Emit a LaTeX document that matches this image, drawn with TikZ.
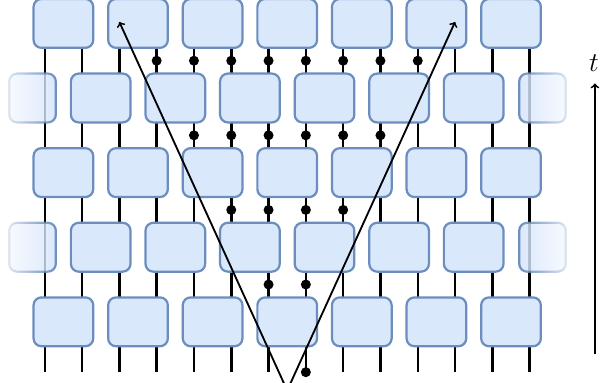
\documentclass[tikz,border=0pt]{standalone}
\usetikzlibrary{fadings}
\definecolor{gatefill}{HTML}{DAE8FC}
\definecolor{gateedge}{HTML}{6C8EBF}
\tikzfading[name=fadeleft, left color=transparent!80, middle color=transparent!0, right color=transparent!0]
\tikzfading[name=faderight, left color=transparent!0, middle color=transparent!0, right color=transparent!80]
\tikzset{
  gate/.style={draw=gateedge, fill=gatefill, line width=1.7pt, rounded corners=6pt,
    minimum width=1.6cm, minimum height=1.31cm, inner sep=0pt},
  halfgate/.style={gate, minimum width=1.25cm},
  wire/.style={line width=1.9pt},
  cone/.style={line width=1.4pt, ->}
}
\begin{document}
\begin{tikzpicture}
\useasboundingbox (0,0) rectangle (16.086,10.268);
\clip (0,0) rectangle (16.086,10.268);

% wires
\foreach \i in {0,...,13}{
  \coordinate (w\i-bot) at ({1.2+\i},0.29);
  \coordinate (w\i-top) at ({1.2+\i},9.64);
  \draw[wire] (w\i-bot) -- (w\i-top);
}

% gates, brickwork
\foreach \k in {0,2,4}
  \foreach \j in {0,...,6}
    \node[gate] (g\k-\j) at ({1.7+2*\j},{1.64+2*\k}) {};
\foreach \k in {1,3}{
  \foreach \j in {0,...,5}
    \node[gate] (g\k-\j) at ({2.7+2*\j},{1.64+2*\k}) {};
  \node[halfgate, path fading=fadeleft] (gl\k) at (0.871,{1.64+2*\k}) {};
  \node[halfgate, path fading=faderight] (gr\k) at (14.545,{1.64+2*\k}) {};
}

% light cone dots
\foreach \y/\a/\b in {8.64/3/10, 6.64/4/9, 4.64/5/8, 2.64/6/7}
  \foreach \i in {\a,...,\b}
    \fill ({1.2+\i},\y) circle (0.134);
\fill (w7-bot) circle (0.134);

% light cone
\coordinate (apex) at (7.7,-0.2);
\coordinate (tipL) at (3.2,9.68);
\coordinate (tipR) at (12.2,9.68);
\draw[cone] (apex) -- (tipL);
\draw[cone] (apex) -- (tipR);

% time axis
\coordinate (tbot) at (15.95,0.77);
\coordinate (ttop) at (15.95,8.03);
\draw[cone] (tbot) -- (ttop);
\node (tlabel) at (15.92,8.58) {\huge $t$};
\end{tikzpicture}
\end{document}
